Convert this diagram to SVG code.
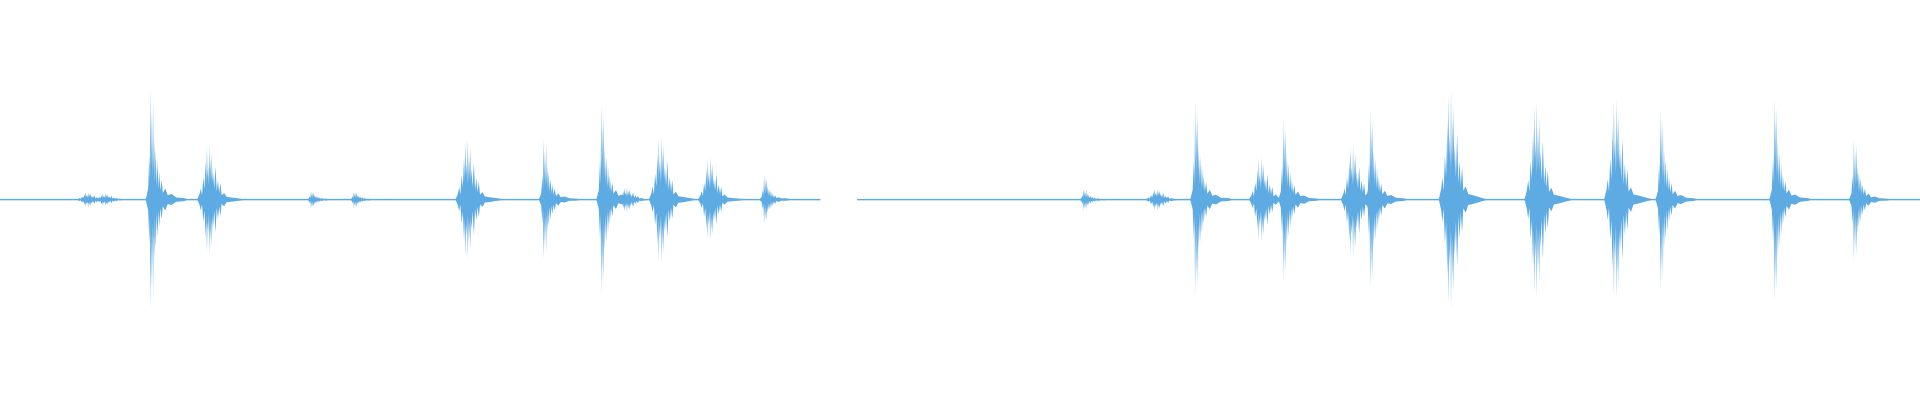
<svg xmlns="http://www.w3.org/2000/svg" width="1920" height="400" viewBox="0 0 1920 400">
<defs>
<style>.w{fill:#5eaae2}</style>
<path id="s" d="M-5,0 L-3,0.1 -2,0.4 -1.5,0.15 -1,1 -0.5,0.3 0,0.8 0.5,0.2 1,0.9 1.5,0.25 2,0.55 2.5,0.15 3,0.45 4,0.12 4.5,0.35 5.5,0.1 6,0.25 7,0.08 8,0.18 9,0.06 11,0.1 13,0.04 16,0.05 20,0.02 26,0.015 30,0 Z"/>
<path id="b" d="M-10,0 L-8,0.1 -7,0.2 -6,0.08 -5,0.4 -4,0.2 -3,0.7 -2.5,0.3 -2,0.95 -1.5,0.4 -1,0.6 -0.5,0.25 0,1 0.5,0.3 1,0.75 1.5,0.35 2,0.85 2.5,0.3 3,0.5 4,0.2 5,0.6 6,0.15 7,0.35 8,0.12 9,0.3 10,0.08 12,0.12 14,0.05 18,0.04 24,0.02 30,0 Z"/>
</defs>
<rect width="1920" height="400" fill="#fff"/>
<g class="w" transform="scale(1.2245)">
<rect x="0" y="162.4" width="670" height="1.2"/>
<rect x="700" y="162.4" width="868" height="1.2"/>
<g id="wave">
<use href="#b" transform="translate(72,163) scale(1,-6)"/><use href="#b" transform="translate(72,163) scale(1,6)"/>
<use href="#b" transform="translate(86,163) scale(1,-5)"/><use href="#b" transform="translate(86,163) scale(1,5)"/>
<use href="#s" transform="translate(124,163) scale(1,-90)"/><use href="#s" transform="translate(124,163) scale(1,89)"/>
<use href="#b" transform="translate(171,163) scale(1,-45)"/><use href="#b" transform="translate(171,163) scale(1,45)"/>
<use href="#s" transform="translate(255,163) scale(1,-7)"/><use href="#s" transform="translate(255,163) scale(1,7)"/>
<use href="#s" transform="translate(290,163) scale(1,-7)"/><use href="#s" transform="translate(290,163) scale(1,7)"/>
<use href="#b" transform="translate(382,163) scale(1,-50)"/><use href="#b" transform="translate(382,163) scale(1,49)"/>
<use href="#s" transform="translate(445,163) scale(1,-50)"/><use href="#s" transform="translate(445,163) scale(1,49)"/>
<use href="#s" transform="translate(492,163) scale(1,-78)"/><use href="#s" transform="translate(492,163) scale(1,77)"/>
<use href="#b" transform="translate(512,163) scale(1,-10)"/><use href="#b" transform="translate(512,163) scale(1,10)"/>
<use href="#b" transform="translate(540,163) scale(1,-53)"/><use href="#b" transform="translate(540,163) scale(1,52)"/>
<use href="#b" transform="translate(580,163) scale(1,-35)"/><use href="#b" transform="translate(580,163) scale(1,34)"/>
<use href="#s" transform="translate(625,163) scale(1,-20)"/><use href="#s" transform="translate(625,163) scale(1,20)"/>
<use href="#s" transform="translate(886,163) scale(1,-9)"/><use href="#s" transform="translate(886,163) scale(1,9)"/>
<use href="#b" transform="translate(945,163) scale(1,-9)"/><use href="#b" transform="translate(945,163) scale(1,9)"/>
<use href="#s" transform="translate(977,163) scale(1,-80)"/><use href="#s" transform="translate(977,163) scale(1,79)"/>
<use href="#b" transform="translate(1030,163) scale(1,-35)"/><use href="#b" transform="translate(1030,163) scale(1,35)"/>
<use href="#s" transform="translate(1049,163) scale(1,-66)"/><use href="#s" transform="translate(1049,163) scale(1,67)"/>
<use href="#b" transform="translate(1105,163) scale(1,-45)"/><use href="#b" transform="translate(1105,163) scale(1,47)"/>
<use href="#s" transform="translate(1120,163) scale(1,-73)"/><use href="#s" transform="translate(1120,163) scale(1,73)"/>
<use href="#b" transform="translate(1185,163) scale(1,-90)"/><use href="#b" transform="translate(1185,163) scale(1,90)"/>
<use href="#b" transform="translate(1255,163) scale(1,-80)"/><use href="#b" transform="translate(1255,163) scale(1,80)"/>
<use href="#b" transform="translate(1320,163) scale(1,-83)"/><use href="#b" transform="translate(1320,163) scale(1,82)"/>
<use href="#s" transform="translate(1357,163) scale(1,-73)"/><use href="#s" transform="translate(1357,163) scale(1,73)"/>
<use href="#s" transform="translate(1450,163) scale(1,-83)"/><use href="#s" transform="translate(1450,163) scale(1,83)"/>
<use href="#s" transform="translate(1515,163) scale(1,-50)"/><use href="#s" transform="translate(1515,163) scale(1,50)"/>
</g>
</g>
</svg>
